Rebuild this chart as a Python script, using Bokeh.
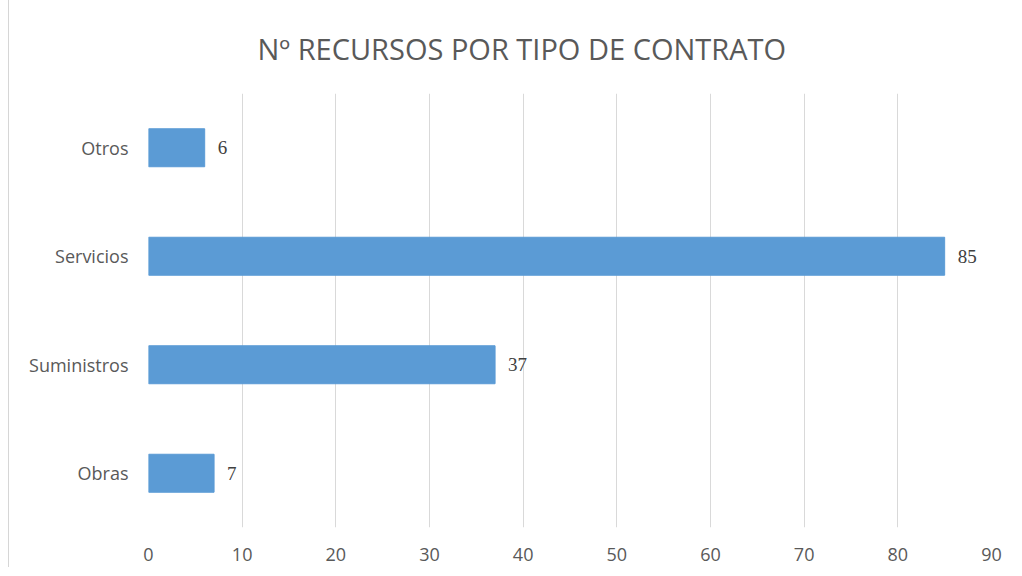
from bokeh.plotting import figure
from bokeh.models import ColumnDataSource, Range1d, FactorRange, Title, LabelSet, FixedTicker
from bokeh.embed import file_html
from bokeh.resources import INLINE

categories = ["Obras", "Suministros", "Servicios", "Otros"]
values = [7, 37, 85, 6]
x_ticks = [0, 10, 20, 30, 40, 50, 60, 70, 80, 90]
title_text = "Nº RECURSOS POR TIPO DE CONTRATO"

FONT = "Open Sans"
BAR = "#5B9BD5"

src = ColumnDataSource(dict(cat=categories, val=values, lab=[str(v) for v in values]))

p = figure(width=1004, height=568, y_range=FactorRange(*categories), x_range=Range1d(0, 90),
           output_backend="svg", toolbar_location=None,
           min_border_left=139, min_border_right=22, min_border_top=93, min_border_bottom=41)
p.title = None
t = Title(text=title_text, align="left", offset=109, text_font=FONT, text_font_size="29px",
          text_font_style="normal", text_color="#595959", standoff=52)
p.add_layout(t, "above")

p.hbar(y="cat", right="val", left=0, height=0.35, source=src, fill_color=BAR, line_color=BAR)
labels = LabelSet(x="val", y="cat", text="lab", source=src, x_offset=13, text_baseline="middle",
                  text_font=FONT, text_font_size="19px", text_color="#404040")
p.add_layout(labels)

p.outline_line_color = None
p.ygrid.grid_line_color = None
p.xgrid.grid_line_color = "#d9d9d9"
p.xgrid.grid_line_width = 1
p.xaxis.ticker = FixedTicker(ticks=x_ticks)
for ax in (p.xaxis[0], p.yaxis[0]):
    ax.axis_line_color = None
    ax.major_tick_line_color = None
    ax.minor_tick_line_color = None
    ax.major_label_text_font = FONT
    ax.major_label_text_font_size = "18px"
    ax.major_label_text_color = "#595959"
p.xaxis.major_label_standoff = 14
p.yaxis.major_label_standoff = 14
p.styles = {"border-left": "1px solid #d6d6d6", "border-top": "1px solid #ececec",
            "margin-left": "8px", "margin-top": "-1px"}

open("out.html", "w").write(file_html(p, INLINE))
